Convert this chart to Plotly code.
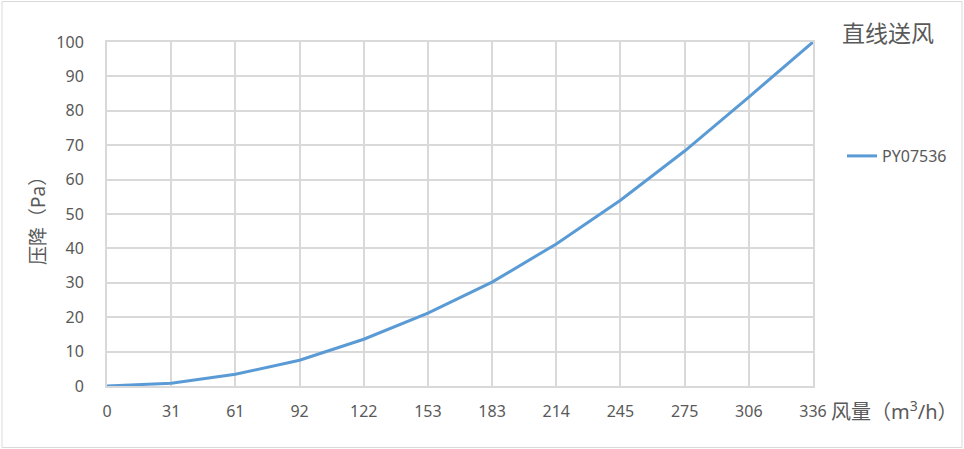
import plotly.graph_objects as go

flow = ["0", "31", "61", "92", "122", "153", "183", "214", "245", "275", "306", "336"]
pressure = [0, 0.8, 3.4, 7.5, 13.6, 21.2, 30.2, 41.3, 54.0, 68.3, 84.0, 100.0]
series_name = "PY07536"
title_text = "直线送风"
x_title = "风量（m<sup>3</sup>/h）"
y_title = "压降（Pa）"

W, H = 964, 449
L, R, T, B = 107, 813, 42, 386
pw, ph = R - L, B - T

def px(x):
    return (x - L) / pw

def py(y):
    return (B - y) / ph

FONT = "Noto Sans, Noto Sans CJK SC, sans-serif"
GREY = "#595959"
GRID = "#d9d9d9"

fig = go.Figure()
fig.add_trace(go.Scatter(x=flow, y=pressure, mode="lines", name=series_name,
                         line=dict(color="#5b9bd5", width=3), cliponaxis=False))

fig.update_layout(
    width=W, height=H,
    margin=dict(l=L, r=W - R, t=T, b=H - B, pad=0),
    paper_bgcolor="white", plot_bgcolor="white",
    font=dict(family=FONT, color=GREY, size=16),
    showlegend=True,
    legend=dict(x=px(842), y=py(156), xanchor="left", yanchor="middle",
                font=dict(size=16, color=GREY), bgcolor="rgba(0,0,0,0)"),
    xaxis=dict(type="category", range=[0, len(flow) - 1], showgrid=True, gridcolor=GRID,
               gridwidth=2, showline=True, linecolor=GRID, linewidth=2, mirror=True,
               ticks="outside", ticklen=10, tickcolor="rgba(0,0,0,0)",
               tickfont=dict(size=16, color=GREY), zeroline=False),
    yaxis=dict(range=[0, 100], dtick=10, showgrid=True, gridcolor=GRID, gridwidth=2,
               showline=True, linecolor=GRID, linewidth=2, mirror=True,
               ticks="outside", ticklen=18, tickcolor="rgba(0,0,0,0)",
               tickfont=dict(size=16, color=GREY), zeroline=False),
    shapes=[dict(type="rect", xref="paper", yref="paper",
                 x0=px(2), x1=px(962), y0=py(447.5), y1=py(1.5),
                 line=dict(color=GRID, width=1), fillcolor="rgba(0,0,0,0)", layer="below")],
    annotations=[
        dict(text=title_text, xref="paper", yref="paper", x=px(888), y=py(33),
             xanchor="center", yanchor="middle", showarrow=False,
             font=dict(size=23, color=GREY)),
        dict(text=x_title, xref="paper", yref="paper", x=px(829), y=py(411),
             xanchor="left", yanchor="middle", showarrow=False,
             font=dict(size=20, color=GREY)),
        dict(text=y_title, xref="paper", yref="paper", x=px(38), y=py(216),
             xanchor="center", yanchor="middle", showarrow=False, textangle=-90,
             font=dict(size=19, color=GREY)),
    ],
)

fig.write_html("out.html", config={"displayModeBar": False},
               post_script="document.body.style.margin='0px';")
